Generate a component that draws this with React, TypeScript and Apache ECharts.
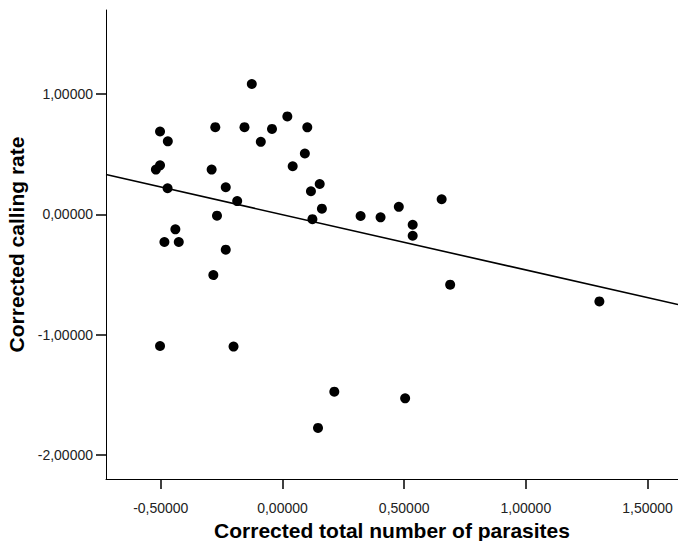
import React, { useEffect, useRef } from "react";
import * as echarts from "echarts";

const xValues = [
  -0.126, -0.503, -0.471, -0.52, -0.503, -0.472, -0.44, -0.485, -0.426, -0.503,
  -0.276, -0.291, -0.233, -0.269, -0.186, -0.233, -0.284, -0.201, -0.156, -0.089,
  -0.043, 0.02, 0.102, 0.092, 0.042, 0.153, 0.117, 0.162, 0.123, 0.321,
  0.403, 0.478, 0.535, 0.535, 0.654, 0.689, 1.302, 0.213, 0.504, 0.146,
];
const yValues = [
  1.085, 0.69, 0.608, 0.373, 0.408, 0.218, -0.124, -0.229, -0.229, -1.094,
  0.726, 0.373, 0.226, -0.01, 0.111, -0.293, -0.504, -1.099, 0.726, 0.604,
  0.711, 0.815, 0.724, 0.507, 0.401, 0.253, 0.193, 0.048, -0.039, -0.013,
  -0.024, 0.063, -0.086, -0.177, 0.126, -0.584, -0.723, -1.474, -1.529, -1.775,
];
const xTicks = [-0.5, 0, 0.5, 1.0, 1.5];
const yTicks = [-2, -1, 0, 1];
const xRange = [-0.725, 1.625];
const yRange = [-2.2, 1.7];
const fitSlope = -0.46;
const fitIntercept = -0.002;

const fmt = (v: number) => v.toFixed(5).replace(".", ",");

export default function App() {
  const ref = useRef<HTMLDivElement>(null);
  useEffect(() => {
    if (!ref.current) return;
    const chart = echarts.init(ref.current, null, { renderer: "svg" });
    const points = xValues.map((x, i) => [x, yValues[i]]);
    const fitLine = xRange.map((x) => [x, fitIntercept + fitSlope * x]);
    const font = "'Liberation Sans', Arial, sans-serif";
    chart.setOption({
      animation: false,
      backgroundColor: "#ffffff",
      grid: {
        left: 106,
        right: 0,
        top: 10,
        bottom: 62,
        containLabel: false,
        outerBoundsMode: "none",
      },
      xAxis: {
        type: "value",
        min: xRange[0],
        max: xRange[1],
        axisLine: { show: true, onZero: false, lineStyle: { color: "#000", width: 1 } },
        axisTick: { show: true, length: 10, customValues: xTicks, lineStyle: { color: "#000", width: 1.5 } },
        axisLabel: {
          customValues: xTicks,
          formatter: (v: number) => fmt(v),
          color: "#222",
          fontSize: 14,
          fontFamily: font,
          margin: 22,
        },
        splitLine: { show: false },
        name: "Corrected total number of parasites",
        nameLocation: "middle",
        nameGap: 45,
        nameTextStyle: {
          fontSize: 21,
          fontWeight: "bold",
          color: "#000",
          fontFamily: font,
          verticalAlign: "middle",
          lineHeight: 22,
        },
      },
      yAxis: {
        type: "value",
        min: yRange[0],
        max: yRange[1],
        axisLine: { show: true, onZero: false, lineStyle: { color: "#000", width: 1 } },
        axisTick: { show: true, length: 10, customValues: yTicks, lineStyle: { color: "#000", width: 1.5 } },
        axisLabel: {
          customValues: yTicks,
          formatter: (v: number) => fmt(v),
          color: "#222",
          fontSize: 14,
          fontFamily: font,
          margin: 13,
        },
        splitLine: { show: false },
        name: "Corrected calling rate",
        nameLocation: "middle",
        nameGap: 88,
        nameRotate: 90,
        nameTextStyle: {
          fontSize: 21,
          fontWeight: "bold",
          color: "#000",
          fontFamily: font,
          verticalAlign: "middle",
        },
      },
      series: [
        {
          type: "line",
          data: fitLine,
          showSymbol: false,
          symbol: "none",
          lineStyle: { color: "#000", width: 1.6 },
          z: 2,
        },
        {
          type: "scatter",
          data: points,
          symbolSize: 10,
          itemStyle: { color: "#000", opacity: 1 },
          z: 3,
        },
      ],
    });
    return () => chart.dispose();
  }, []);
  return (
    <div
      ref={ref}
      style={{ position: "absolute", left: 0, top: 0, width: 678, height: 541 }}
    />
  );
}
